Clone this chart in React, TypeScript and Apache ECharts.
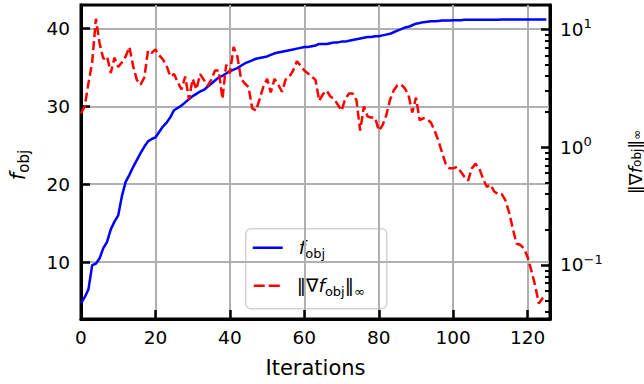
import React, { useEffect, useRef } from "react";
import * as echarts from "echarts";

const fObj: number[] = [
  4.7, 5.5, 6.5, 9.6, 9.8, 10.5, 11.8, 12.6, 14.2, 15.2,
  16.0, 18.5, 20.3, 21.2, 22.2, 23.1, 24.0, 24.8, 25.5, 25.8,
  26.0, 26.7, 27.4, 27.9, 28.6, 29.5, 29.8, 30.1, 30.5, 30.9,
  31.3, 31.6, 31.9, 32.1, 32.5, 32.9, 33.3, 33.7, 33.9, 34.2,
  34.5, 34.7, 34.9, 35.2, 35.5, 35.7, 35.9, 36.1, 36.2, 36.3,
  36.4, 36.6, 36.8, 36.9, 37.0, 37.1, 37.2, 37.3, 37.4, 37.5,
  37.6, 37.6, 37.7, 37.8, 38.0, 38.0, 38.0, 38.1, 38.2, 38.2,
  38.3, 38.3, 38.4, 38.5, 38.6, 38.7, 38.8, 38.9, 38.9, 39.0,
  39.0, 39.1, 39.2, 39.3, 39.5, 39.7, 39.9, 40.1, 40.2, 40.4,
  40.6, 40.7, 40.8, 40.85, 40.9, 40.9, 40.95, 41.0, 41.0, 41.0,
  41.05, 41.05, 41.05, 41.1, 41.1, 41.1, 41.1, 41.1, 41.1, 41.1,
  41.1, 41.1, 41.1, 41.15, 41.15, 41.15, 41.15, 41.15, 41.15, 41.15,
  41.15, 41.15, 41.15, 41.15, 41.15, 41.15,
];

const gradNorm: number[] = [
  1.93, 2.22, 3.48, 5.25, 12.3, 7.59, 5.62, 5.89, 4.27, 5.75,
  4.79, 5.25, 5.89, 7.08, 4.9, 3.72, 3.39, 3.89, 6.61, 6.31,
  6.76, 6.03, 5.56, 4.9, 3.98, 4.17, 3.55, 3.09, 3.98, 2.54,
  3.8, 3.09, 4.17, 3.72, 3.31, 3.72, 4.47, 4.47, 2.57, 5.01,
  4.22, 7.08, 5.89, 3.8, 3.47, 3.24, 2.14, 2.04, 2.57, 3.27,
  3.8, 2.92, 3.8, 3.39, 2.95, 3.76, 3.98, 4.47, 5.37, 4.9,
  4.47, 4.22, 3.98, 3.72, 2.48, 2.82, 3.02, 2.69, 2.57, 2.29,
  2.04, 2.57, 2.85, 2.85, 2.51, 1.38, 2.21, 1.82, 1.78, 1.78,
  1.38, 1.53, 1.86, 2.51, 3.02, 3.35, 3.39, 3.16, 2.75, 1.97,
  2.63, 1.69, 1.76, 1.72, 1.62, 1.38, 1.14, 0.9, 0.72, 0.66,
  0.66, 0.68, 0.62, 0.56, 0.52, 0.66, 0.72, 0.66, 0.54, 0.46,
  0.48, 0.42, 0.4, 0.4, 0.355, 0.279, 0.204, 0.151, 0.148, 0.138,
  0.116, 0.089, 0.067, 0.047, 0.052, 0.055,
];

const xTicks = [0, 20, 40, 60, 80, 100, 120];
const leftTicks = [10, 20, 30, 40];
const rightExponents = [-1, 0, 1];
const xRange = [0, 126];
const leftRange = [2.7, 43.0];
const rightRange = [0.0347, 16.1];

const legendLabels = ["{i|f}{s|obj}", "{n|\u2016\u2207}{i|f}{s|obj}{n|\u2016}{s|\u221e}"];
const legendColors = ["#0000ff", "#ff0000"];

const FONT = "DejaVu Sans";

const mathRich = (size: number, lh: number, subSize: number, subLh: number) => ({
  n: { fontFamily: FONT, fontSize: size, lineHeight: lh, color: "#000", fill: "#000" },
  i: { fontFamily: FONT, fontStyle: "italic", fontSize: size, lineHeight: lh, color: "#000", fill: "#000" },
  s: { fontFamily: FONT, fontSize: subSize, lineHeight: subLh, verticalAlign: "bottom", color: "#000", fill: "#000" },
  b: { fontFamily: FONT, fontSize: size, lineHeight: lh, color: "#000", fill: "#000" },
  sup: { fontFamily: FONT, fontSize: subSize, lineHeight: subLh, verticalAlign: "top", color: "#000", fill: "#000" },
});

export default function App() {
  const ref = useRef<HTMLDivElement>(null);
  useEffect(() => {
    if (!ref.current) return;
    const chart = echarts.init(ref.current, undefined, { renderer: "svg" });
    const lg = (v: number) => Math.log10(v);
    const rMin = lg(rightRange[0]);
    const rMax = lg(rightRange[1]);
    const minorTicks: number[] = [];
    for (let e = -2; e <= 1; e++) {
      for (let k = 2; k <= 9; k++) {
        const t = lg(k) + e;
        if (t > rMin && t < rMax) minorTicks.push(t);
      }
    }
    const tickFont = 18.5;
    const labelFont = 21;
    const supStr = (v: number) => (v < 0 ? "\u2212" + Math.abs(v) : String(v));

    const legendGraphic = {
      type: "group",
      left: 245,
      top: 228,
      z: 100,
      children: [
        {
          type: "rect",
          shape: { x: 0, y: 0, width: 141, height: 80, r: 5 },
          style: { fill: "rgba(255,255,255,0.8)", stroke: "#d4d4d4", lineWidth: 1.5 },
        },
        {
          type: "line",
          shape: { x1: 7, y1: 19, x2: 37, y2: 19 },
          style: { stroke: legendColors[0], lineWidth: 2.5 },
        },
        {
          type: "line",
          shape: { x1: 8, y1: 57, x2: 35, y2: 57 },
          style: { stroke: legendColors[1], lineWidth: 2.5, lineDash: [11, 4] },
        },
        {
          type: "text",
          x: 53,
          y: 19,
          style: {
            text: legendLabels[0],
            fontFamily: FONT,
            fontSize: tickFont,
            fill: "#000",
            align: "left",
            verticalAlign: "middle",
            rich: mathRich(tickFont, 24, 13, 14),
          },
        },
        {
          type: "text",
          x: 51,
          y: 57,
          style: {
            text: legendLabels[1],
            fontFamily: FONT,
            fontSize: tickFont,
            fill: "#000",
            align: "left",
            verticalAlign: "middle",
            rich: mathRich(tickFont, 24, 13, 14),
          },
        },
      ],
    };

    chart.setOption({
      animation: false,
      backgroundColor: "#fff",
      grid: {
        left: 81,
        right: 94,
        top: 5,
        bottom: 65,
        show: true,
        borderColor: "#000",
        borderWidth: 3,
        backgroundColor: "transparent",
        outerBoundsMode: "none",
        containLabel: false,
      },
      graphic: [legendGraphic],
      xAxis: {
        type: "value",
        min: xRange[0],
        max: xRange[1],
        name: "Iterations",
        nameLocation: "middle",
        nameGap: 38,
        nameMoveOverlap: false,
        nameTextStyle: { fontFamily: FONT, fontSize: labelFont, color: "#000" },
        axisLine: { show: true, onZero: false, lineStyle: { color: "#000", width: 3 } },
        axisTick: { show: true, inside: true, length: 9, lineStyle: { color: "#000", width: 2.5 }, customValues: xTicks },
        axisLabel: { show: true, margin: 9, fontFamily: FONT, fontSize: tickFont, color: "#000", customValues: xTicks },
        splitLine: { show: true, lineStyle: { color: "#b0b0b0", width: 2 } },
      },
      yAxis: [
        {
          type: "value",
          position: "left",
          min: leftRange[0],
          max: leftRange[1],
          name: "{i|f}{s|obj}",
          nameLocation: "middle",
          nameRotate: 90,
          nameGap: 50,
          nameMoveOverlap: false,
          nameTextStyle: {
            fontFamily: FONT,
            fontSize: labelFont,
            color: "#000",
            padding: [0, 6, 0, 0],
            rich: mathRich(labelFont, 26, 15, 16),
          },
          axisLine: { show: true, onZero: false, lineStyle: { color: "#000", width: 3 } },
          axisTick: { show: true, inside: true, length: 9, lineStyle: { color: "#000", width: 2.5 }, customValues: leftTicks },
          axisLabel: { show: true, margin: 11, fontFamily: FONT, fontSize: tickFont, color: "#000", customValues: leftTicks },
          splitLine: { show: true, lineStyle: { color: "#b0b0b0", width: 2 } },
        },
        {
          type: "value",
          position: "right",
          min: rMin,
          max: rMax,
          name: "{n|\u2016\u2207}{i|f}{s|obj}{n|\u2016}{s|\u221e}",
          nameLocation: "middle",
          nameRotate: 90,
          nameGap: 77,
          nameMoveOverlap: false,
          nameTextStyle: { fontFamily: FONT, fontSize: 18, color: "#000", rich: mathRich(18, 16, 12, 10) },
          axisLine: { show: true, onZero: false, lineStyle: { color: "#000", width: 3 } },
          axisTick: { show: true, inside: true, length: 9, lineStyle: { color: "#000", width: 2.5 }, customValues: rightExponents },
          axisLabel: {
            show: true,
            margin: 10,
            fontFamily: FONT,
            fontSize: tickFont,
            color: "#000",
            customValues: rightExponents,
            formatter: (v: number) => "{b|10}{sup|" + supStr(Math.round(v)) + "}",
            rich: mathRich(tickFont, 24, 13, 14),
          },
          splitLine: { show: false },
        },
        {
          type: "value",
          position: "right",
          min: rMin,
          max: rMax,
          axisLine: { show: false, onZero: false },
          axisTick: { show: true, inside: true, length: 5, lineStyle: { color: "#000", width: 2 }, customValues: minorTicks },
          axisLabel: { show: false },
          splitLine: { show: false },
        },
      ],
      series: [
        {
          name: "fobj",
          type: "line",
          yAxisIndex: 0,
          symbol: "none",
          showSymbol: false,
          lineStyle: { color: legendColors[0], width: 2.5 },
          itemStyle: { color: legendColors[0] },
          data: fObj.map((v, i) => [i, v]),
          z: 3,
        },
        {
          name: "grad",
          type: "line",
          yAxisIndex: 1,
          symbol: "none",
          showSymbol: false,
          lineStyle: { color: legendColors[1], width: 2.5, type: [9, 4] },
          itemStyle: { color: legendColors[1] },
          data: gradNorm.map((v, i) => [i, lg(v)]),
          z: 3,
        },
      ],
    });
    return () => chart.dispose();
  }, []);
  return <div ref={ref} style={{ position: "fixed", left: 0, top: 0, width: 644, height: 384 }} />;
}
